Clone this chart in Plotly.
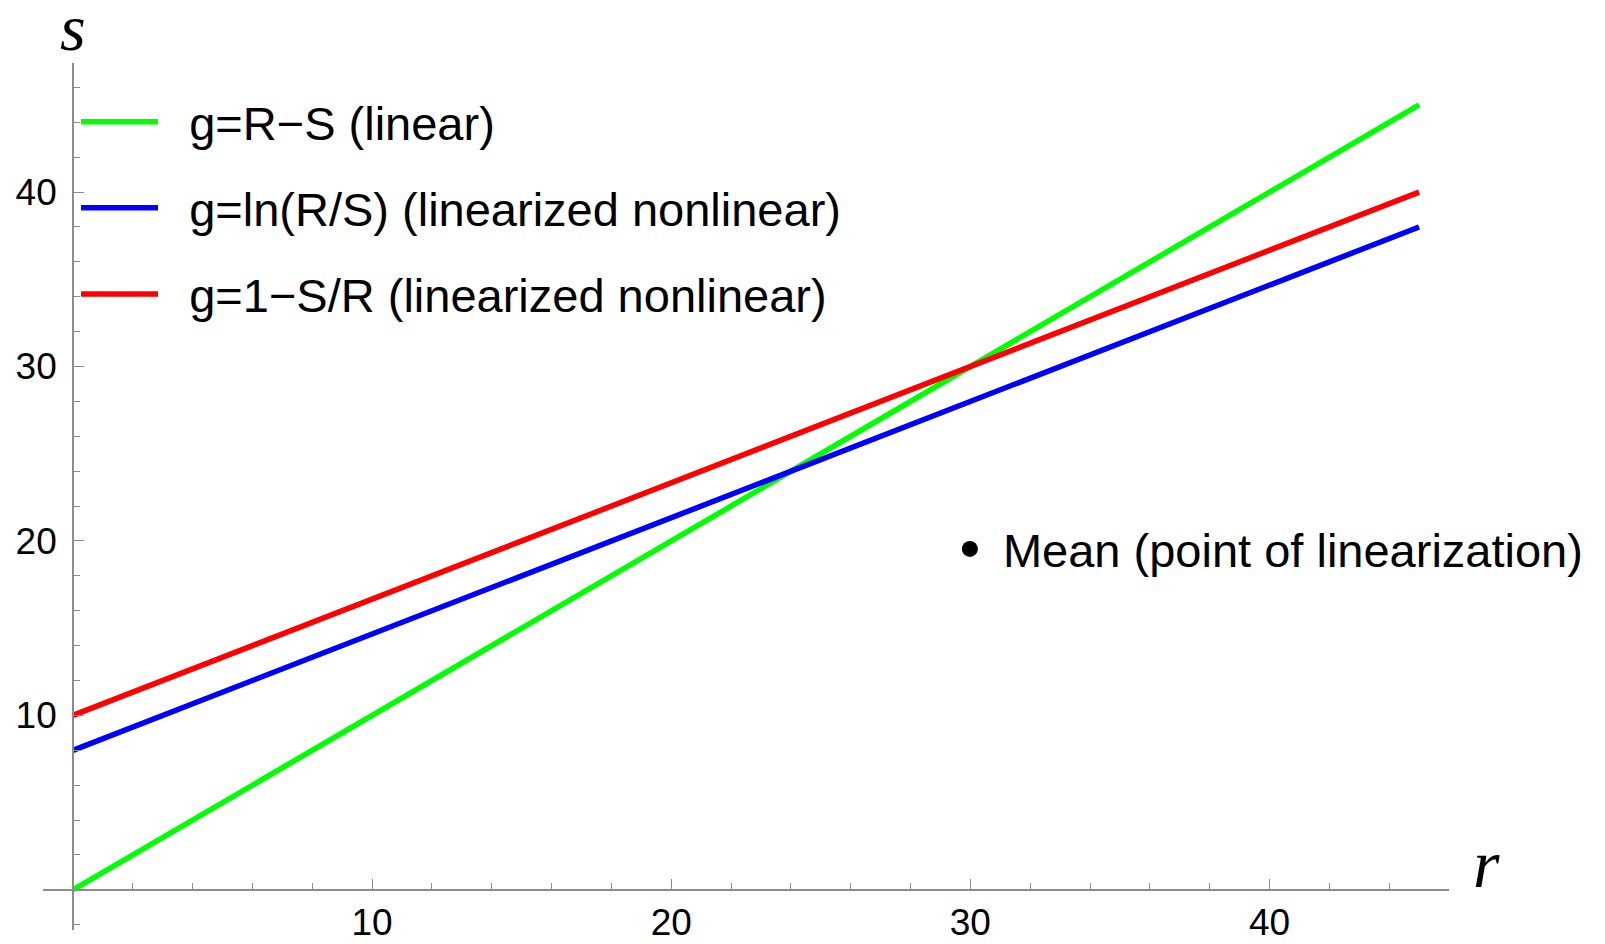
import plotly.graph_objects as go

# ---- data ----
r_vals = [0, 45]
s_linear = [0, 45]          # g = R - S
s_ln = [8, 38]              # g = ln(R/S)
s_ratio = [10, 40]          # g = 1 - S/R
series_names = ["g=R\u2212S (linear)",
                "g=ln(R/S) (linearized nonlinear)",
                "g=1\u2212S/R (linearized nonlinear)"]
series_colors = ["#00ff00", "#0000ff", "#ff0000"]
mean_label = "Mean (point of linearization)"
x_ticks = [10, 20, 30, 40]
y_ticks = [10, 20, 30, 40]

x_range = [-1, 46]
y_range = [-2.3, 47.4]

fig = go.Figure()
for name, ys, col, grp in zip(series_names, [s_linear, s_ln, s_ratio], series_colors, ["a", "b", "c"]):
    fig.add_trace(go.Scatter(x=r_vals, y=ys, mode="lines", name="\u00a0\u00a0" + name,
                             line=dict(color=col, width=5.5),
                             legendgroup=grp, legend="legend"))

fig.add_trace(go.Scatter(x=[None], y=[None], mode="markers", name="\u00a0" + mean_label,
                         marker=dict(color="black", size=24),
                         legend="legend2"))

xpos = (0 - y_range[0]) / (y_range[1] - y_range[0])
ypos = (0 - x_range[0]) / (x_range[1] - x_range[0])

axis_font = dict(family="Liberation Sans, Arial, sans-serif", size=37, color="black")
legend_font = dict(family="Liberation Sans, Arial, sans-serif", size=47, color="black")

fig.update_layout(
    width=1605, height=944,
    margin=dict(l=43, r=156, t=63, b=14),
    plot_bgcolor="white", paper_bgcolor="white",
    showlegend=True,
    xaxis=dict(range=x_range, showgrid=False, zeroline=False,
               showline=True, linecolor="#8c8c8c", linewidth=1.5,
               anchor="free", position=xpos,
               tickvals=x_ticks, ticks="inside", ticklen=10, tickwidth=1.2, tickcolor="#8c8c8c",
               minor=dict(dtick=2, tick0=0, ticks="inside", ticklen=6, tickcolor="#8c8c8c", tickwidth=1),
               tickfont=axis_font, ticklabelstandoff=0, automargin=False),
    yaxis=dict(range=y_range, showgrid=False, zeroline=False,
               showline=True, linecolor="#8c8c8c", linewidth=1.5,
               anchor="free", position=ypos,
               tickvals=y_ticks, ticks="inside", ticklen=10, tickwidth=1.2, tickcolor="#8c8c8c",
               minor=dict(dtick=2, tick0=0, ticks="inside", ticklen=6, tickcolor="#8c8c8c", tickwidth=1),
               tickfont=axis_font, ticklabelstandoff=8, automargin=False),
    legend=dict(x=0.0235, y=0.975, xanchor="left", yanchor="top",
                bgcolor="rgba(0,0,0,0)", tracegroupgap=22, itemwidth=77,
                font=legend_font),
    legend2=dict(x=0.645, y=0.439, xanchor="left", yanchor="middle",
                 bgcolor="rgba(0,0,0,0)", itemwidth=30, itemsizing="trace",
                 font=legend_font),
    annotations=[
        dict(text="s", xref="paper", yref="paper", x=ypos, y=1, xanchor="center", yanchor="bottom",
             yshift=-3, showarrow=False,
             font=dict(family="Liberation Serif, Times New Roman, serif", size=66, color="black")),
        dict(text="r", xref="paper", yref="paper", x=1.027, y=xpos, xanchor="center", yanchor="bottom",
             yshift=-14, showarrow=False,
             font=dict(family="Liberation Serif, Times New Roman, serif", size=68, color="black")),
    ],
)
for a in fig.layout.annotations:
    a.font.style = "italic"

fig.write_html("out.html")
